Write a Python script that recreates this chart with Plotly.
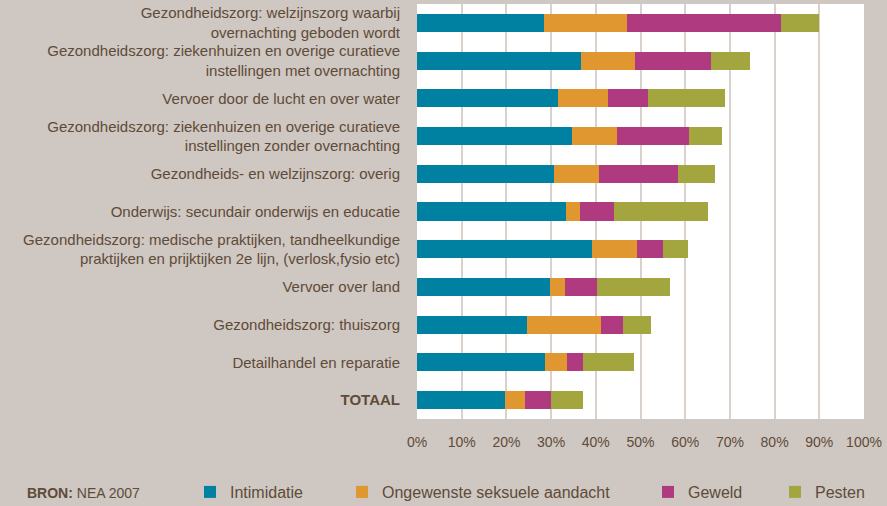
import plotly.graph_objects as go

categories = [
    "Gezondheidszorg: welzijnszorg waarbij<br>overnachting geboden wordt",
    "Gezondheidszorg: ziekenhuizen en overige curatieve<br>instellingen met overnachting",
    "Vervoer door de lucht en over water",
    "Gezondheidszorg: ziekenhuizen en overige curatieve<br>instellingen zonder overnachting",
    "Gezondheids- en welzijnszorg: overig",
    "Onderwijs: secundair onderwijs en educatie",
    "Gezondheidszorg: medische praktijken, tandheelkundige<br>praktijken en prijktijken 2e lijn, (verlosk,fysio etc)",
    "Vervoer over land",
    "Gezondheidszorg: thuiszorg",
    "Detailhandel en reparatie",
    "<b>TOTAAL</b>",
]

intimidatie = [28.4, 36.7, 31.6, 34.7, 30.7, 33.4, 39.2, 29.8, 24.6, 28.7, 19.7]
ongewenste = [18.6, 12.1, 11.2, 10.1, 10.0, 3.1, 10.1, 3.3, 16.6, 4.9, 4.5]
geweld = [34.5, 17.0, 8.9, 16.1, 17.7, 7.6, 5.8, 7.2, 4.9, 3.6, 5.8]
pesten = [8.5, 8.8, 17.3, 7.4, 8.3, 21.0, 5.6, 16.3, 6.3, 11.4, 7.2]

series_names = ["Intimidatie", "Ongewenste seksuele aandacht", "Geweld", "Pesten"]
series_values = [intimidatie, ongewenste, geweld, pesten]
colors = ["#0081A1", "#E0972F", "#B03A7F", "#A3A63E"]

x_ticks = [0, 10, 20, 30, 40, 50, 60, 70, 80, 90, 100]
x_ticklabels = [f"{t}%" for t in x_ticks]

BG = "#CFC7C1"
TXT = "#5E4B39"
W, H = 887, 506

legend_ids = ["legend", "legend2", "legend3", "legend4"]
legend_square_px = [204, 356, 662, 789]

fig = go.Figure()
for name, vals, col, lid in zip(series_names, series_values, colors, legend_ids):
    fig.add_trace(go.Bar(
        y=categories, x=vals, name=name, orientation="h",
        marker=dict(color=col, line=dict(width=0)),
        legend=lid, hoverinfo="x+name",
    ))

layout_legends = {}
for lid, px in zip(legend_ids, legend_square_px):
    layout_legends[lid] = dict(
        xref="container", yref="container",
        x=(px - 14) / W, y=1 - 492 / H,
        xanchor="left", yanchor="middle",
        bgcolor="rgba(0,0,0,0)", borderwidth=0,
        font=dict(family="Liberation Sans", size=16, color=TXT),
        orientation="h",
    )

plot_l, plot_r, plot_t, plot_b = 416.5, 23, 4, 87

fig.update_layout(
    width=W, height=H,
    margin=dict(l=plot_l, r=plot_r, t=plot_t, b=plot_b, autoexpand=False),
    paper_bgcolor=BG, plot_bgcolor="#FFFFFF",
    barmode="stack", bargap=0.52,
    font=dict(family="Liberation Sans", size=15, color=TXT),
    showlegend=True,
    **layout_legends,
    xaxis=dict(
        range=[0, 100], tickvals=x_ticks, ticktext=x_ticklabels,
        showgrid=True, gridcolor="#D8D1CC", gridwidth=1.5,
        zeroline=False, showline=True, linecolor="#D0C8C3", linewidth=1.5,
        ticks="", ticklabelstandoff=9,
        tickfont=dict(family="Liberation Sans", size=14, color=TXT),
        fixedrange=True,
    ),
    yaxis=dict(
        autorange=False, range=[len(categories) - 0.5, -0.5],
        showgrid=False, zeroline=False, showline=False,
        ticks="", ticklabelstandoff=16,
        tickfont=dict(family="Liberation Sans", size=15, color=TXT),
        fixedrange=True,
    ),
)

plot_w = W - plot_l - plot_r
plot_h = H - plot_t - plot_b
fig.add_annotation(
    xref="paper", yref="paper",
    x=(24 - plot_l) / plot_w, y=((H - 493) - plot_b) / plot_h,
    xanchor="left", yanchor="middle", showarrow=False,
    text="<b>BRON:</b> NEA 2007",
    font=dict(family="Liberation Sans", size=14, color=TXT),
)

fig.write_html(
    "out.html",
    config={"displayModeBar": False},
    post_script="document.body.style.margin='0';document.body.style.padding='0';",
)
